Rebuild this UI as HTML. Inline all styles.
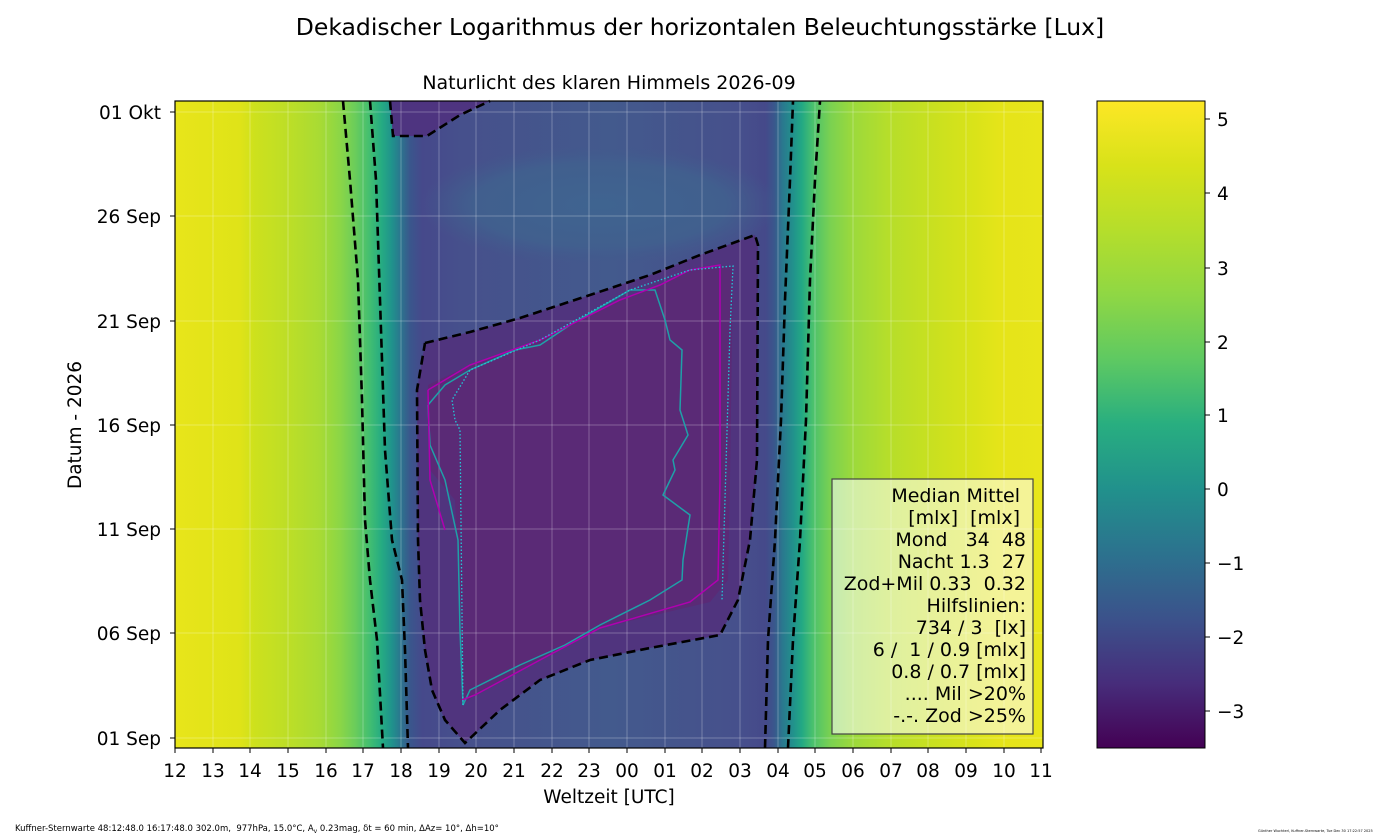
<!DOCTYPE html>
<html><head><meta charset="utf-8"><style>
body{margin:0;background:#fff}
svg{display:block;font-family:"DejaVu Sans","Liberation Sans",sans-serif}
text{white-space:pre}
</style></head><body>
<svg width="1400" height="840" viewBox="0 0 1400 840" xmlns="http://www.w3.org/2000/svg" xml:space="preserve">
<defs>
<linearGradient id="bg" x1="175" y1="0" x2="1043" y2="0" gradientUnits="userSpaceOnUse">
<stop offset="0" stop-color="#e8e51a"/>
<stop offset="0.075" stop-color="#dfe318"/>
<stop offset="0.092" stop-color="#cde11d"/>
<stop offset="0.132" stop-color="#bcde27"/>
<stop offset="0.167" stop-color="#a8db34"/>
<stop offset="0.19" stop-color="#8bd646"/>
<stop offset="0.207" stop-color="#6ccd5a"/>
<stop offset="0.225" stop-color="#40bd72"/>
<stop offset="0.238" stop-color="#25ab82"/>
<stop offset="0.25" stop-color="#20928c"/>
<stop offset="0.259" stop-color="#2a788e"/>
<stop offset="0.271" stop-color="#3a568c"/>
<stop offset="0.285" stop-color="#46498b"/>
<stop offset="0.33" stop-color="#46508c"/>
<stop offset="0.5" stop-color="#435a8d"/>
<stop offset="0.65" stop-color="#46508c"/>
<stop offset="0.68" stop-color="#45498a"/>
<stop offset="0.69" stop-color="#3a568c"/>
<stop offset="0.7" stop-color="#2a788e"/>
<stop offset="0.712" stop-color="#21918c"/>
<stop offset="0.722" stop-color="#22a884"/>
<stop offset="0.735" stop-color="#4ac16d"/>
<stop offset="0.755" stop-color="#7ad151"/>
<stop offset="0.78" stop-color="#9bd93c"/>
<stop offset="0.82" stop-color="#b5de2b"/>
<stop offset="0.87" stop-color="#c8e020"/>
<stop offset="0.92" stop-color="#d9e319"/>
<stop offset="0.95" stop-color="#e5e419"/>
<stop offset="1" stop-color="#e8e51a"/>
</linearGradient>
<linearGradient id="cb" x1="0" y1="748" x2="0" y2="101" gradientUnits="userSpaceOnUse">
<stop offset="0" stop-color="#440154"/>
<stop offset="0.1" stop-color="#472d7b"/>
<stop offset="0.2" stop-color="#3b528b"/>
<stop offset="0.3" stop-color="#2c728e"/>
<stop offset="0.4" stop-color="#21918c"/>
<stop offset="0.5" stop-color="#28ae80"/>
<stop offset="0.6" stop-color="#5ec962"/>
<stop offset="0.7" stop-color="#8fd744"/>
<stop offset="0.8" stop-color="#b5de2b"/>
<stop offset="0.9" stop-color="#d8e219"/>
<stop offset="1" stop-color="#fde725"/>
</linearGradient>
<radialGradient id="el" cx="0.5" cy="0.5" r="0.5">
<stop offset="0" stop-color="#3f6490"/>
<stop offset="0.7" stop-color="#415f8e"/>
<stop offset="1" stop-color="#42598d" stop-opacity="0"/>
</radialGradient>
</defs>
<text x="700" y="35" font-size="23.5" text-anchor="middle">Dekadischer Logarithmus der horizontalen Beleuchtungsstärke [Lux]</text>
<text x="609" y="89" font-size="19" text-anchor="middle">Naturlicht des klaren Himmels 2026-09</text>
<g>
<rect x="175" y="101" width="868" height="647" fill="url(#bg)"/>
<ellipse cx="600" cy="205" rx="180" ry="60" fill="url(#el)"/>
<polygon points="390,101 393,136 427,136 460,115 490,101" fill="#4e3480"/>
<polygon points="425,343 470,332 520,318 590,295 650,275 700,255 755,235 758,245 757,460 750,540 738,600 720,635 650,648 590,660 540,680 500,710 465,743 445,720 432,690 425,650 420,600 418,540 417,390" fill="#50347e"/>
<polygon points="428,385 470,365 540,340 620,300 660,285 690,270 733,266 730,480 728,580 710,602 600,628 540,660 475,695 462,705 460,600 455,500 430,470" fill="#5a2a76"/>
<g stroke="#fff" stroke-opacity="0.18" stroke-width="1.5">
<line x1="213" y1="101" x2="213" y2="748"/><line x1="250" y1="101" x2="250" y2="748"/><line x1="288" y1="101" x2="288" y2="748"/><line x1="326" y1="101" x2="326" y2="748"/><line x1="363" y1="101" x2="363" y2="748"/><line x1="401" y1="101" x2="401" y2="748"/><line x1="439" y1="101" x2="439" y2="748"/><line x1="476" y1="101" x2="476" y2="748"/><line x1="514" y1="101" x2="514" y2="748"/><line x1="552" y1="101" x2="552" y2="748"/><line x1="589" y1="101" x2="589" y2="748"/><line x1="627" y1="101" x2="627" y2="748"/><line x1="665" y1="101" x2="665" y2="748"/><line x1="702" y1="101" x2="702" y2="748"/><line x1="740" y1="101" x2="740" y2="748"/><line x1="778" y1="101" x2="778" y2="748"/><line x1="815" y1="101" x2="815" y2="748"/><line x1="853" y1="101" x2="853" y2="748"/><line x1="891" y1="101" x2="891" y2="748"/><line x1="928" y1="101" x2="928" y2="748"/><line x1="966" y1="101" x2="966" y2="748"/><line x1="1004" y1="101" x2="1004" y2="748"/>
<line x1="175" y1="112" x2="1043" y2="112"/><line x1="175" y1="216" x2="1043" y2="216"/><line x1="175" y1="321" x2="1043" y2="321"/><line x1="175" y1="425" x2="1043" y2="425"/><line x1="175" y1="529" x2="1043" y2="529"/><line x1="175" y1="633" x2="1043" y2="633"/><line x1="175" y1="738" x2="1043" y2="738"/>
</g>
<polyline points="428,405 445,385 470,370 515,350 540,345 570,325 630,290 655,290 665,320 670,340 682,350 680,410 688,435 673,460 675,470 663,495 690,515 683,560 682,580 650,600 600,625 565,645 520,665 470,690 463,705 460,630 458,540 445,480 430,445 428,405" fill="none" stroke="#1fa0a8" stroke-width="1.5"/>
<polyline points="428,390 470,365 540,340 620,300 660,285 690,270 720,265 720,480 718,580 690,602 600,628 540,660 475,695 462,700" fill="none" stroke="#b000b0" stroke-width="1.5"/>
<polyline points="428,390 430,480 445,530" fill="none" stroke="#b000b0" stroke-width="1.5"/>
<polyline points="463,705 460,430 455,420 452,400 470,370 540,340 630,290 690,270 733,266 730,330 722,600" fill="none" stroke="#22c8d8" stroke-width="1.3" stroke-dasharray="1.5,2"/>
<g fill="none" stroke="#000" stroke-width="2.6" stroke-dasharray="9,5">
<polyline points="343,101 350,180 358,280 362,400 365,520 370,580 377,640 383,748"/>
<polyline points="370,101 376,180 380,300 385,450 392,540 402,580 405,650 408,748"/>
<polyline points="390,101 393,136 427,136 460,115 490,101"/>
<polyline points="425,343 470,332 520,318 590,295 650,275 700,255 755,235 758,245 757,460 750,540 738,600 720,635 650,648 590,660 540,680 500,710 465,743 445,720 432,690 425,650 420,600 418,540 417,390 425,343"/>
<polyline points="765,748 768,640 775,540 781,420 785,300 790,180 793,101"/>
<polyline points="788,748 793,640 800,540 806,420 810,280 815,180 820,101"/>
</g>
<rect x="832" y="479" width="201" height="255" fill="#fff" fill-opacity="0.55" stroke="#444" stroke-width="1.2"/>
<g font-size="19" text-anchor="end">
<text x="1020" y="502">Median Mittel</text>
<text x="1020" y="524">[mlx]  [mlx]</text>
<text x="1026" y="546">Mond   34  48</text>
<text x="1026" y="568">Nacht 1.3  27</text>
<text x="1026" y="590">Zod+Mil 0.33  0.32</text>
<text x="1026" y="612">Hilfslinien:</text>
<text x="1026" y="634">734 / 3  [lx]</text>
<text x="1026" y="656">6 /  1 / 0.9 [mlx]</text>
<text x="1026" y="678">0.8 / 0.7 [mlx]</text>
<text x="1026" y="700">.... Mil &gt;20%</text>
<text x="1026" y="722">-.-. Zod &gt;25%</text>
</g>
<rect x="175" y="101" width="868" height="647" fill="none" stroke="#000" stroke-width="1.2"/>
</g>
<g stroke="#000" stroke-width="1">
<line x1="175" y1="748" x2="175" y2="753"/><line x1="213" y1="748" x2="213" y2="753"/><line x1="250" y1="748" x2="250" y2="753"/><line x1="288" y1="748" x2="288" y2="753"/><line x1="326" y1="748" x2="326" y2="753"/><line x1="363" y1="748" x2="363" y2="753"/><line x1="401" y1="748" x2="401" y2="753"/><line x1="439" y1="748" x2="439" y2="753"/><line x1="476" y1="748" x2="476" y2="753"/><line x1="514" y1="748" x2="514" y2="753"/><line x1="552" y1="748" x2="552" y2="753"/><line x1="589" y1="748" x2="589" y2="753"/><line x1="627" y1="748" x2="627" y2="753"/><line x1="665" y1="748" x2="665" y2="753"/><line x1="702" y1="748" x2="702" y2="753"/><line x1="740" y1="748" x2="740" y2="753"/><line x1="778" y1="748" x2="778" y2="753"/><line x1="815" y1="748" x2="815" y2="753"/><line x1="853" y1="748" x2="853" y2="753"/><line x1="891" y1="748" x2="891" y2="753"/><line x1="928" y1="748" x2="928" y2="753"/><line x1="966" y1="748" x2="966" y2="753"/><line x1="1004" y1="748" x2="1004" y2="753"/><line x1="1041" y1="748" x2="1041" y2="753"/>
<line x1="170" y1="112" x2="175" y2="112"/><line x1="170" y1="216" x2="175" y2="216"/><line x1="170" y1="321" x2="175" y2="321"/><line x1="170" y1="425" x2="175" y2="425"/><line x1="170" y1="529" x2="175" y2="529"/><line x1="170" y1="633" x2="175" y2="633"/><line x1="170" y1="738" x2="175" y2="738"/>
</g>
<g font-size="18.5" text-anchor="middle">
<text x="175" y="777">12</text><text x="213" y="777">13</text><text x="250" y="777">14</text><text x="288" y="777">15</text><text x="326" y="777">16</text><text x="363" y="777">17</text><text x="401" y="777">18</text><text x="439" y="777">19</text><text x="476" y="777">20</text><text x="514" y="777">21</text><text x="552" y="777">22</text><text x="589" y="777">23</text><text x="627" y="777">00</text><text x="665" y="777">01</text><text x="702" y="777">02</text><text x="740" y="777">03</text><text x="778" y="777">04</text><text x="815" y="777">05</text><text x="853" y="777">06</text><text x="891" y="777">07</text><text x="928" y="777">08</text><text x="966" y="777">09</text><text x="1004" y="777">10</text><text x="1041" y="777">11</text>
<text x="609" y="803">Weltzeit [UTC]</text>
</g>
<g font-size="18.5" text-anchor="end">
<text x="161" y="119">01 Okt</text><text x="161" y="223">26 Sep</text><text x="161" y="328">21 Sep</text><text x="161" y="432">16 Sep</text><text x="161" y="536">11 Sep</text><text x="161" y="640">06 Sep</text><text x="161" y="745">01 Sep</text>
</g>
<text transform="translate(81,425) rotate(-90)" font-size="18.5" text-anchor="middle">Datum - 2026</text>
<rect x="1097" y="101" width="108" height="647" fill="url(#cb)" stroke="#000" stroke-width="1"/>
<g stroke="#000"><line x1="1205" y1="119" x2="1210" y2="119"/><line x1="1205" y1="193" x2="1210" y2="193"/><line x1="1205" y1="268" x2="1210" y2="268"/><line x1="1205" y1="342" x2="1210" y2="342"/><line x1="1205" y1="415" x2="1210" y2="415"/><line x1="1205" y1="489" x2="1210" y2="489"/><line x1="1205" y1="563" x2="1210" y2="563"/><line x1="1205" y1="637" x2="1210" y2="637"/><line x1="1205" y1="711" x2="1210" y2="711"/></g>
<g font-size="18.5">
<text x="1217" y="126">5</text><text x="1217" y="200">4</text><text x="1217" y="275">3</text><text x="1217" y="349">2</text><text x="1217" y="422">1</text><text x="1217" y="496">0</text><text x="1217" y="570">−1</text><text x="1217" y="644">−2</text><text x="1217" y="718">−3</text>
</g>
<text x="15" y="831" font-size="8.5">Kuffner-Sternwarte 48:12:48.0 16:17:48.0 302.0m,  977hPa, 15.0°C, A<tspan font-size="6" dy="2">v</tspan><tspan dy="-2"> 0.23mag, δt = 60 min, ΔAz= 10°, Δh=10°</tspan></text>
<text x="1258" y="832" font-size="3.5">Günther Wuchterl, Kuffner-Sternwarte, Tue Dec 30 17:22:57 2025</text>
</svg>
</body></html>
